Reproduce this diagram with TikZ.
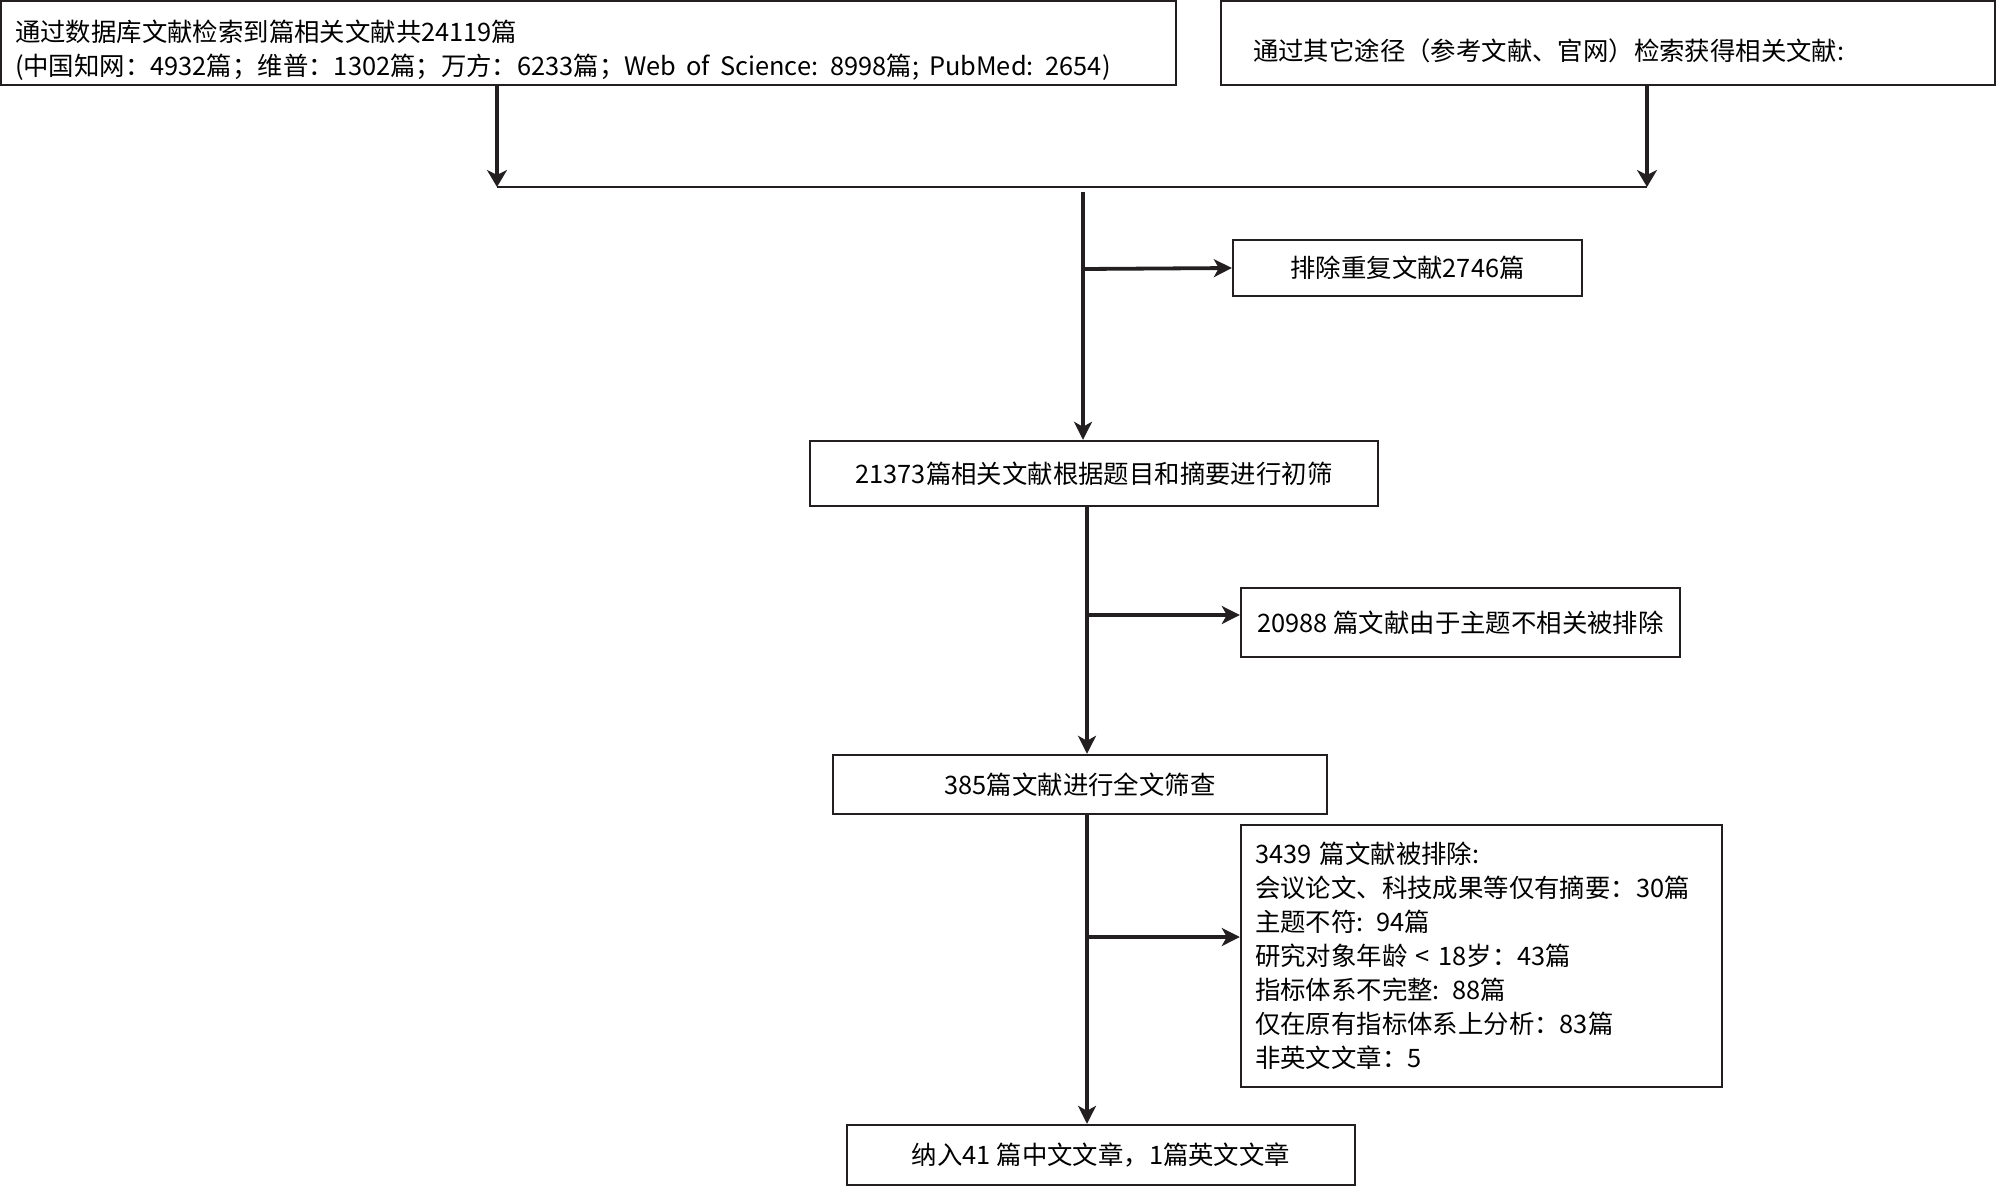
\documentclass[tikz,border=0pt]{standalone}
\usepackage{fontspec}
\setmainfont{Noto Sans CJK SC}
\usetikzlibrary{arrows.meta}
\definecolor{ink}{HTML}{231F20}
\begin{document}
\begin{tikzpicture}[x=0.5pt,y=-0.5pt,
  box/.style={draw=ink,line width=1.2pt,rectangle,inner sep=0pt,font=\fontsize{12.7}{17}\selectfont,text=black},
  flow/.style={draw=ink,line width=1.9pt,-{Stealth[length=9pt,width=9pt,inset=2.5pt]}},
  thinflow/.style={draw=ink,line width=1.9pt,-{Stealth[length=8.5pt,width=10pt,inset=2.5pt]}},
  thinline/.style={draw=ink,line width=1.1pt}]
\useasboundingbox (0,0) rectangle (2000,1189);

\node[box,minimum width=587.5pt,minimum height=42pt] (db) at (588.5,43)
  {\raisebox{-16.3pt}[0pt][0pt]{\parbox[b]{573.5pt}{\raggedright\spaceskip=5pt plus 1pt 通过数据库文献检索到篇相关文献共24119篇\\(中国知网：4932篇；维普：1302篇；万方：6233篇；Web of Science: 8998篇; PubMed: 2654)}}};
\node[box,minimum width=387pt,minimum height=42pt,text width=355pt,align=left] (other) at (1608,43)
  {\raisebox{-8.8pt}[0pt][0pt]{通过其它途径（参考文献、官网）检索获得相关文献:}};
\node[box,minimum width=174.5pt,minimum height=28pt] (dup) at (1407.5,268) {排除重复文献2746篇};
\node[box,minimum width=284pt,minimum height=32.5pt] (s1) at (1094,473.5) {21373篇相关文献根据题目和摘要进行初筛};
\node[box,minimum width=219.5pt,minimum height=34.5pt] (ex1) at (1460.5,622.5) {20988 篇文献由于主题不相关被排除};
\node[box,minimum width=247pt,minimum height=29.5pt] (s2) at (1080,784.5) {385篇文献进行全文筛查};
\node[box,minimum width=240.5pt,minimum height=131pt,text width=226.5pt,align=left] (ex2) at (1481.5,956)
  {3439 篇文献被排除:\\
   会议论文、科技成果等仅有摘要：30篇\\
   主题不符: 94篇\\
   研究对象年龄 < 18岁：43篇\\
   指标体系不完整: 88篇\\
   仅在原有指标体系上分析：83篇\\
   非英文文章：5};
\node[box,minimum width=254pt,minimum height=30pt] (fin) at (1101,1155) {纳入41 篇中文文章，1篇英文文章};

\coordinate (jl) at (497,187);
\coordinate (jr) at (1647,187);
\coordinate (m0) at (1083,192);
\coordinate (b1) at (1083,269);
\coordinate (b2) at (1087,615);
\coordinate (b3) at (1087,937);

\draw[thinflow] (db.south -| jl) -- (jl);
\draw[thinflow] (other.south -| jr) -- (jr);
\draw[thinline] (jl) -- (jr);

\draw[flow] (m0) -- (m0 |- s1.north);
\draw[flow] (b1) -- (dup.west);
\draw[flow] (s1.south -| b2) -- (b2 |- s2.north);
\draw[flow] (b2) -- (ex1.west |- b2);
\draw[flow] (s2.south -| b3) -- (b3 |- fin.north);
\draw[flow] (b3) -- (ex2.west |- b3);
\end{tikzpicture}
\end{document}
